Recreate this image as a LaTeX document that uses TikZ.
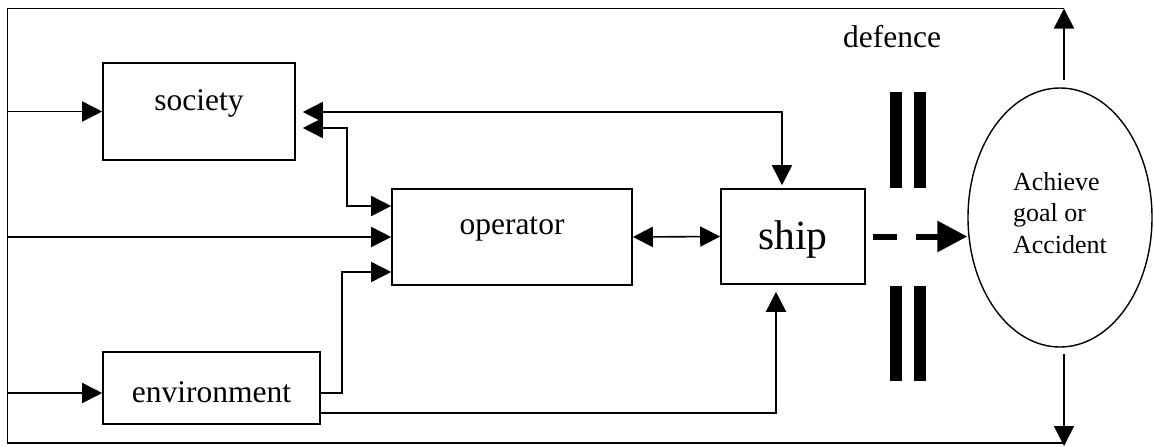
\documentclass[tikz,border=0pt]{standalone}
\usepackage{fontspec}
\setmainfont{Liberation Serif}
\usetikzlibrary{arrows.meta,calc,shapes.geometric}
\begin{document}
\begin{tikzpicture}[x=1pt,y=-1pt,
  >={Triangle[length=20pt,width=20pt]},
  wire/.style={line width=1.6pt},
  block/.style={draw, rectangle, line width=1.6pt, inner sep=0pt},
  blocktext/.style={anchor=base, font=\fontsize{31.5}{38}\selectfont},
  bigtip/.style={-{Triangle[length=30pt,width=30pt]}},
  barrier/.style={fill=black}]
\useasboundingbox (0,0) rectangle (1154,447);

% system components
\node[block, minimum width=192pt, minimum height=97pt,
      label={[blocktext, yshift=8.5pt]center:society}] (society) at (199,111.5) {};
\node[block, minimum width=240pt, minimum height=96pt,
      label={[blocktext, yshift=8pt]center:operator}] (operator) at (512,237) {};
\node[block, minimum width=217pt, minimum height=72pt,
      label={[blocktext, yshift=-4pt]center:environment}] (env) at (211.5,388) {};
\node[block, minimum width=144pt, minimum height=95pt,
      label={[blocktext, font=\fontsize{41.5}{50}\selectfont, yshift=-3.5pt]center:ship}] (ship) at (793,236.5) {};

% outcome
\node[draw, ellipse, line width=1.4pt, minimum width=184pt, minimum height=259pt,
      inner sep=0pt, align=left, font=\fontsize{26}{31.5}\selectfont] (goal) at (1060,217.5)
      {Achieve\\goal or\\Accident\rule[-10pt]{0pt}{10pt}};

\node[anchor=base, font=\fontsize{31.5}{38}\selectfont] (defence) at (892,47) {defence};

% defence barriers
\fill[barrier] (890,92) rectangle (902,188);
\fill[barrier] (914,92) rectangle (926,188);
\fill[barrier] (890,286) rectangle (902,381);
\fill[barrier] (914,286) rectangle (926,381);

% feedback frame
\coordinate (ftop) at (1064,8.5);
\coordinate (fnw) at (7.5,8.5);
\coordinate (fsw) at (7.5,443);
\coordinate (fbot) at (1064,443);
\draw[wire] (ftop) -- (fnw) -- (fsw) -- (fbot);
\draw[wire,->,shorten <=7pt] (goal.north -| ftop) -- (ftop);
\draw[wire,->,shorten <=6pt] (goal.south -| fbot) -- ([yshift=-3pt]fbot);

% inputs from the frame
\coordinate (envin) at ($(env.west)+(0,5)$);
\draw[wire,->] (society.west -| fnw) -- (society.west);
\draw[wire,->] (operator.west -| fnw) -- (operator.west);
\draw[wire,->] (envin -| fnw) -- (envin);

% links between components
\coordinate (socA) at ($(society.east)+(7,0.5)$);
\coordinate (socB) at ($(society.east)+(7,16.5)$);
\coordinate (shipN) at ($(ship.north)+(-11,-3)$);
\coordinate (opA) at ($(operator.west)+(0,-31)$);
\coordinate (opC) at ($(operator.west)+(0,35)$);
\coordinate (envA) at ($(env.east)+(0,5)$);
\coordinate (envB) at ($(env.east)+(0,25)$);
\coordinate (shipS) at ($(ship.south)+(-17,7)$);

\draw[wire,<->] (socA) -| (shipN);
\draw[wire,<->] (socB) -| ($(opA)+(-44,0)$) -- (opA);
\draw[wire,->] (envA) -| ($(opC)+(-49,0)$) -- (opC);
\draw[wire,->] (envB) -| (shipS);
\draw[wire,<->] (operator.east) -- (ship.west);

% ship to outcome
\draw[line width=6pt, dash pattern=on 24pt off 19pt, shorten <=7pt, bigtip]
  (ship.east) -- (ship.east -| goal.west);
\end{tikzpicture}
\end{document}
